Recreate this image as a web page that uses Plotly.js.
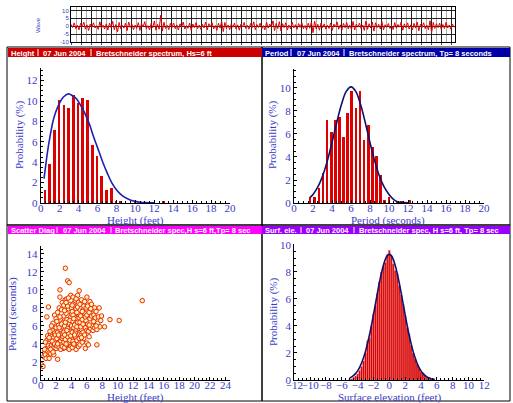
<!DOCTYPE html>
<html><head><meta charset="utf-8">
<script src="https://cdn.plot.ly/plotly-3.0.1.min.js"></script>
<style>html,body{margin:0;padding:0;background:#fff}#c{width:513px;height:403px}</style>
</head><body><div id="c"></div>
<script>
// ---- time series (wave surface, ft) ----
const waveDt = 4.8;
const waveVals = [1.2,-0.8,2.1,-1.5,0.6,-2.3,1.8,-0.4,2.6,-1.9,0.9,-2.7,1.4,-0.6,2.2,-1.1,0.3,-2.0,2.8,-1.3,
0.7,-1.8,1.5,-2.4,2.0,-0.9,3.1,-2.2,1.1,-3.6,2.4,-1.6,0.5,-1.2,1.9,-2.8,2.7,-0.7,1.3,-2.1,
0.8,-1.4,2.3,-2.6,1.6,-0.5,2.9,-1.7,0.4,-2.3,1.7,-1.0,3.3,-2.5,1.2,-1.9,7.0,-3.1,2.5,-1.4,
0.6,-2.2,1.8,-0.8,2.1,-1.6,0.9,-2.4,1.5,-0.6,2.6,-1.8,0.3,-1.3,2.0,-2.7,1.4,-0.9,2.3,-1.5,
0.7,-2.0,1.2,-1.1,2.7,-2.3,1.6,-0.4,2.2,-1.7,0.5,-2.6,1.9,-1.2,3.0,-3.4,2.4,-1.5,0.8,-2.1,
1.5,-0.7,2.0,-1.8,0.9,-2.5,1.3,-0.5,2.4,-1.4,0.6,-1.9,1.7,-1.0,2.8,-2.2,1.1,-0.8,1.9,-1.6,
0.4,-2.3,2.6,-1.2,1.4,-0.6,3.4,-2.8,1.8,-1.5,2.9,-3.0,1.6,-0.9,2.2,-2.4,0.8,-1.7,2.5,-1.1,
1.0,-2.0,1.7,-0.7,2.3,-1.6,0.5,-2.2,1.9,-1.3,2.7,-4.1,3.2,-1.8,1.2,-2.5,2.0,-0.8,1.5,-1.9,
0.6,-1.4,2.1,-2.6,1.3,-0.5,2.8,-1.9,0.9,-2.3,1.8,-1.0,2.4,-1.7,0.7,-2.1,3.0,-2.4,1.4,-0.6,
2.0,-1.5,0.8,-2.7,3.3,-2.0,1.6,-1.1,2.5,-3.1,2.2,-0.9,1.2,-1.8,2.9,-2.3,1.0,-0.7,1.7,-1.4,
0.5,-2.1,2.3,-1.3,1.1,-0.6,2.6,-2.5,1.5,-1.0,2.1,-1.8,0.9,-2.4,1.8,-1.2,2.7,-2.9,1.3,-0.8,
2.2,-1.6,0.7,-2.2,3.5,-4.0,2.4,-1.4,1.6,-0.9,2.0,-2.0,1.1,-1.5,2.5,-1.1,0.8,-1.9,1.4,-0.6];
const waveTicks = ['10','5','0','-5','-10'];
const waveTickVals = [10,5,0,-5,-10];

// ---- wave height histogram ----
const hgtX = [0.45,0.95,1.45,1.95,2.45,2.95,3.45,3.95,4.45,4.95,5.45,5.95,6.45,6.95,7.45,7.95,8.45,8.95,9.45,9.95,10.45,10.95,11.45,11.95,12.45,12.95];
const hgtP = [1.3,3.8,7.2,10.1,9.6,9.3,10.6,9.8,10.3,10.1,5.7,4.6,2.6,1.3,1.5,0.2,0.2,0,0,0.1,0,0,0,0,0,0.2];
const hgtCurveX = [0.35,0.45,0.7,1.0,1.27,1.51,1.75,2.04,2.4,2.92,3.4,3.8,4.2,4.5,4.85,5.2,5.55,5.9,6.25,6.6,7.0,7.5,8.0,8.4,8.9,9.4,10.0,10.5,11.0,11.5,12.0];
const hgtCurveP = [2.4,3.1,4.9,6.6,7.9,8.7,9.3,9.9,10.4,10.7,10.5,10.2,9.6,9.1,8.4,7.6,6.6,5.7,4.8,3.9,3.0,2.0,1.3,0.9,0.55,0.33,0.16,0.08,0.04,0.02,0.01];

// ---- wave period histogram ----
const perX = [1.68,2.18,2.63,3.05,3.47,3.93,4.35,4.77,5.23,5.65,6.07,6.53,6.95,7.37,7.82,8.25,8.67,9.09,9.54,10.0,10.43,10.88,11.3,11.73,12.18];
const perP = [0.5,0.5,1.3,2.6,7.2,6.2,7.2,7.5,5.7,7.8,9.7,8.3,9.7,5.5,6.8,4.9,4.1,2.4,0.3,0.5,0,0.2,0.2,0,0.3];
const perCurveX = [1.7,2.0,2.5,3.0,3.5,4.0,4.5,5.0,5.5,6.0,6.5,7.0,7.5,8.0,8.5,9.0,9.5,10.0,10.5,11.0,11.5,12.0];
const perCurveP = [0.49,0.74,1.37,2.32,3.64,5.25,7.0,8.58,9.7,10.1,9.7,8.58,7.0,5.25,3.64,2.32,1.37,0.74,0.3,0.08,0.03,0.02];

// ---- scatter height vs period ----
const scH = [0.1,0.3,0.4,0.5,0.6,0.7,0.8,0.8,0.9,1.0,1.0,1.0,0.6,0.9,0.5,0.7,
1.1,1.1,1.2,1.2,1.3,1.3,1.4,1.4,1.5,1.5,1.6,1.6,1.7,1.7,1.8,1.8,1.9,1.9,2.0,2.0,1.2,1.5,1.7,1.9,1.3,1.6,1.8,1.4,1.1,2.0,
2.1,2.1,2.2,2.2,2.2,2.3,2.3,2.4,2.4,2.4,2.5,2.5,2.5,2.6,2.6,2.7,2.7,2.7,2.8,2.8,2.8,2.9,2.9,3.0,3.0,3.0,2.1,2.3,2.6,2.9,2.2,2.5,2.8,3.0,2.4,2.7,
3.1,3.1,3.2,3.2,3.2,3.3,3.3,3.4,3.4,3.4,3.5,3.5,3.5,3.6,3.6,3.7,3.7,3.7,3.8,3.8,3.9,3.9,3.9,4.0,4.0,4.0,3.1,3.3,3.6,3.8,3.4,3.6,3.9,3.2,3.5,3.7,4.0,3.3,3.8,3.1,
4.1,4.1,4.1,4.2,4.2,4.2,4.3,4.3,4.4,4.4,4.5,4.5,4.5,4.6,4.6,4.6,4.7,4.7,4.8,4.8,4.8,4.9,4.9,4.9,5.0,5.0,5.0,4.3,4.4,4.6,4.7,4.9,4.2,4.5,4.8,4.1,4.4,4.7,5.0,4.3,
5.1,5.1,5.1,5.2,5.2,5.3,5.3,5.4,5.4,5.5,5.5,5.6,5.6,5.6,5.7,5.7,5.8,5.8,5.9,5.9,6.0,6.0,6.0,5.2,5.4,5.5,5.8,5.3,5.7,6.0,
6.1,6.1,6.2,6.3,6.3,6.4,6.4,6.5,6.6,6.6,6.7,6.8,6.8,6.9,7.0,7.0,6.2,6.5,6.9,6.3,
7.1,7.2,7.3,7.3,7.4,7.5,7.6,7.7,7.9,8.3,9.0,10.2,13.2,7.2,7.8];
const scT = [1.7,1.5,2.6,3.0,2.8,3.5,4.4,7.0,3.2,2.6,3.8,8.1,4.2,4.9,3.4,2.4,
2.4,3.0,3.6,4.5,5.1,2.9,3.9,4.8,3.3,5.5,4.1,6.3,3.6,4.7,5.2,7.2,3.9,4.4,5.8,6.8,5.4,4.3,2.8,5.0,3.4,3.1,4.0,6.0,4.7,3.5,
3.8,4.6,2.3,5.3,7.5,4.1,6.1,3.6,4.9,8.0,5.6,10.0,9.2,4.3,6.6,3.9,5.0,7.8,4.6,5.9,8.6,3.5,6.4,4.2,5.3,7.1,6.5,5.0,3.4,4.8,4.0,7.0,3.7,8.3,5.8,6.2,
3.6,6.0,4.5,8.9,12.4,5.1,7.4,3.9,6.7,9.0,4.8,11.0,5.7,3.5,7.9,10.8,4.2,6.3,5.4,8.4,3.7,7.0,9.4,4.6,6.0,8.0,7.7,4.0,5.2,6.6,5.5,9.1,4.9,6.4,8.2,3.4,7.3,8.6,4.4,5.0,
3.6,5.3,7.6,4.3,6.5,9.2,5.8,8.5,3.9,7.0,4.8,6.2,8.8,3.4,5.5,7.9,4.4,6.8,5.1,8.1,9.4,3.7,6.0,7.3,4.6,9.9,5.7,4.0,6.1,9.0,5.9,8.6,7.2,5.2,6.4,8.3,5.0,7.5,6.9,6.8,
3.9,6.4,8.4,4.9,7.1,5.6,8.9,4.2,6.7,5.3,7.8,4.6,6.1,8.2,5.0,7.4,5.8,3.5,6.6,8.0,4.1,5.5,9.2,5.9,7.6,6.2,7.0,4.7,8.7,7.2,
6.2,8.2,5.4,7.5,4.8,6.8,8.7,5.7,7.1,8.4,6.0,7.8,5.5,6.5,8.0,5.8,3.9,7.9,7.2,6.1,
6.9,7.6,3.9,5.6,6.3,7.0,8.0,5.9,7.1,5.9,6.7,6.6,8.8,6.0,6.6];

// ---- surface elevation histogram ----
const surfX = [-5,-4.75,-4.5,-4.25,-4,-3.75,-3.5,-3.25,-3,-2.75,-2.5,-2.25,-2,-1.75,-1.5,-1.25,-1,-0.75,-0.5,-0.25,0,0.25,0.5,0.75,1,1.25,1.5,1.75,2,2.25,2.5,2.75,3,3.25,3.5,3.75,4,4.25,4.5,4.75,5,5.25,5.5];
const surfP = [0.05,0.1,0.2,0.3,0.45,0.7,1.0,1.4,2.0,2.9,3.1,4.0,4.9,5.5,6.4,7.3,8.0,8.4,8.7,9.3,9.6,9.2,8.6,8.1,7.9,7.0,6.3,5.6,4.8,3.9,3.4,2.6,2.0,1.6,1.2,0.9,0.6,0.45,0.3,0.2,0.12,0.08,0.04];
const surfCurveX = [-5,-4.75,-4.5,-4.25,-4,-3.75,-3.5,-3.25,-3,-2.75,-2.5,-2.25,-2,-1.75,-1.5,-1.25,-1,-0.75,-0.5,-0.25,0,0.25,0.5,0.75,1,1.25,1.5,1.75,2,2.25,2.5,2.75,3,3.25,3.5,3.75,4,4.25,4.5,4.75,5,5.25,5.5,5.75];
const surfCurveP = [0.16,0.23,0.34,0.49,0.68,0.94,1.26,1.66,2.14,2.71,3.35,4.07,4.84,5.64,6.44,7.21,7.90,8.48,8.93,9.21,9.3,9.21,8.93,8.48,7.90,7.21,6.44,5.64,4.84,4.07,3.35,2.71,2.14,1.66,1.26,0.94,0.68,0.49,0.34,0.23,0.16,0.10,0.07,0.04];

// ---- headers ----
const headTL = ['Height','07 Jun 2004','Bretschneider spectrum, Hs=6 ft'];
const headTR = ['Period','07 Jun 2004','Bretschneider spectrum, Tp= 8 seconds'];
const headBL = ['Scatter Diag','07 Jun 2004','Bretschneider spec,H s=6 ft,Tp= 8 sec'];
const headBR = ['Surf. ele.','07 Jun 2004','Bretschneider spec, H s=6 ft, Tp= 8 sec'];

const W=513,H=403;
const px=x=>x/W, py=y=>1-y/H;
const blue='#3a3ac8';
const serif='"Liberation Serif", "DejaVu Serif", serif';
const sans='"Liberation Sans", sans-serif';
const tickF={family:serif,size:11,color:blue};

function ax(dom,range,dtick,minor,extra){
  return Object.assign({domain:dom,range:range,dtick:dtick,tick0:0,showline:true,linecolor:'#000',linewidth:1,
    ticks:'inside',ticklen:3,tickcolor:'#000',showgrid:false,zeroline:false,tickfont:tickF,fixedrange:true,tickangle:0,
    minor:{dtick:minor,ticks:'inside',ticklen:2,tickcolor:'#000'}},extra||{});
}
const xs={ticklabelstandoff:-5};

const traces=[
 {type:'scatter',mode:'lines',x0:0,dx:waveDt,y:waveVals,xaxis:'x',yaxis:'y',line:{color:'#e00000',width:1},hoverinfo:'skip'},
 {type:'bar',x:hgtX,y:hgtP,width:0.28,xaxis:'x2',yaxis:'y2',marker:{color:'#dd0000',line:{width:0}}},
 {type:'scatter',mode:'lines',x:hgtCurveX,y:hgtCurveP,xaxis:'x2',yaxis:'y2',line:{color:'#2020b0',width:1.6,shape:'spline'}},
 {type:'bar',x:perX,y:perP,width:0.3,xaxis:'x3',yaxis:'y3',marker:{color:'#dd0000',line:{width:0}}},
 {type:'scatter',mode:'lines',x:perCurveX,y:perCurveP,xaxis:'x3',yaxis:'y3',line:{color:'#101070',width:1.6,shape:'spline'}},
 {type:'scatter',mode:'markers',x:scH,y:scT,xaxis:'x4',yaxis:'y4',marker:{symbol:'circle',size:4.5,color:'rgba(255,250,170,0.95)',line:{color:'#ea2810',width:1}}},
 {type:'bar',x:surfX,y:surfP,width:0.25,xaxis:'x5',yaxis:'y5',marker:{color:'#d80000',line:{width:0.3,color:'#f4b0b0'}}},
 {type:'scatter',mode:'lines',x:surfCurveX,y:surfCurveP,xaxis:'x5',yaxis:'y5',line:{color:'#101070',width:1.6,shape:'spline'}}
];

const shapes=[];
const annotations=[];
function rect(x0,y0,x1,y1,fill,line){shapes.push({type:'rect',xref:'paper',yref:'paper',x0:px(x0),x1:px(x1),y0:py(y1),y1:py(y0),fillcolor:fill||'rgba(0,0,0,0)',line:line||{width:0},layer:'above'});}
function vline(x,y0,y1,c,w){shapes.push({type:'line',xref:'paper',yref:'paper',x0:px(x),x1:px(x),y0:py(y0),y1:py(y1),line:{color:c,width:w||1},layer:'above'});}
function text(t,x,y,opt){annotations.push(Object.assign({text:t,xref:'paper',yref:'paper',x:px(x),y:py(y),showarrow:false,xanchor:'left',yanchor:'middle',font:{family:sans,size:7.5,color:'#fff',weight:'bold'}},opt||{}));}

// panel frames
rect(7,47,262,225,null,{color:'#000',width:1});
rect(262,47,510,225,null,{color:'#000',width:1});
rect(7,225,262,401,null,{color:'#000',width:1});
rect(262,225,510,401,null,{color:'#000',width:1});
// header bars
function header(x0,x1,y0,y1,col,labels,pos,seps){
  rect(x0,y0,x1,y1,col);
  labels.forEach((l,i)=>text(l,pos[i],(y0+y1)/2+0.5));
  seps.forEach(s=>vline(s,y0+1,y1-1,'#fff',1));
}
header(8,262,48,57,'#cc0000',headTL,[9,41,94],[38,91]);
header(262,510,48,57,'#0000a8',headTR,[263,295,347],[291,344]);
header(8,262,226,234,'#ff00ff',headBL,[9,61,113],[57,111]);
header(262,510,226,234,'#9b00ff',headBR,[263,304,357],[301,354]);

// axis titles
const tf={family:serif,size:11,color:blue};
text('Probability (%)',20,135,{xanchor:'center',textangle:-90,font:tf});
text('Height (feet)',135,220.5,{xanchor:'center',font:tf});
text('Probability (%)',273,135,{xanchor:'center',textangle:-90,font:tf});
text('Period (seconds)',388,220.5,{xanchor:'center',font:tf});
text('Period (seconds)',12,314,{xanchor:'center',textangle:-90,font:tf});
text('Height (feet)',135,397,{xanchor:'center',font:tf});
text('Probability (%)',273,312,{xanchor:'center',textangle:-90,font:tf});
text('Surface elevation (feet)',390,397,{xanchor:'center',font:tf});
text('Wave',38,25,{xanchor:'center',textangle:-90,font:{family:sans,size:6,color:blue}});

const layout={
  width:W,height:H,margin:{l:0,r:0,t:0,b:0},paper_bgcolor:'#fff',plot_bgcolor:'#fff',showlegend:false,
  bargap:0,
  xaxis:{domain:[px(71),px(455)],range:[0,1150],dtick:30,tick0:0,showgrid:true,gridcolor:'#222',gridwidth:1,
    minor:{dtick:15,showgrid:true,gridcolor:'#aaa',gridwidth:1},showline:true,linecolor:'#000',mirror:true,
    ticks:'outside',ticklen:2,tickcolor:blue,showticklabels:false,zeroline:false,fixedrange:true},
  yaxis:{domain:[py(42),py(7)],range:[-10,12.2],tickvals:waveTickVals,ticktext:waveTicks,showgrid:true,gridcolor:'#222',
    showline:true,linecolor:'#000',mirror:true,ticks:'',tickfont:{family:sans,size:6,color:blue},zeroline:false,fixedrange:true},
  xaxis2:ax([px(40.7),px(230)],[0,20],2,0.5,Object.assign({anchor:'y2'},xs)),
  yaxis2:ax([py(203),py(68)],[0,13.24],2,0.5,{anchor:'x2'}),
  xaxis3:ax([px(294),px(484)],[0,20],2,0.5,Object.assign({anchor:'y3'},xs)),
  yaxis3:ax([py(203),py(69)],[0,11.65],2,0.5,{anchor:'x3'}),
  xaxis4:ax([px(40.7),px(230)],[0,24.6],2,0.5,Object.assign({anchor:'y4'},xs)),
  yaxis4:ax([py(380),py(245.7)],[0,14.9],2,0.5,{anchor:'x4'}),
  xaxis5:ax([px(294.3),px(484.3)],[-12,12],2,0.5,Object.assign({anchor:'y5'},xs)),
  yaxis5:ax([py(380),py(244)],[0,10.07],2,0.5,{anchor:'x5'}),
  shapes:shapes,annotations:annotations
};
Plotly.newPlot('c',traces,layout,{displayModeBar:false,staticPlot:true});
</script></body></html>
